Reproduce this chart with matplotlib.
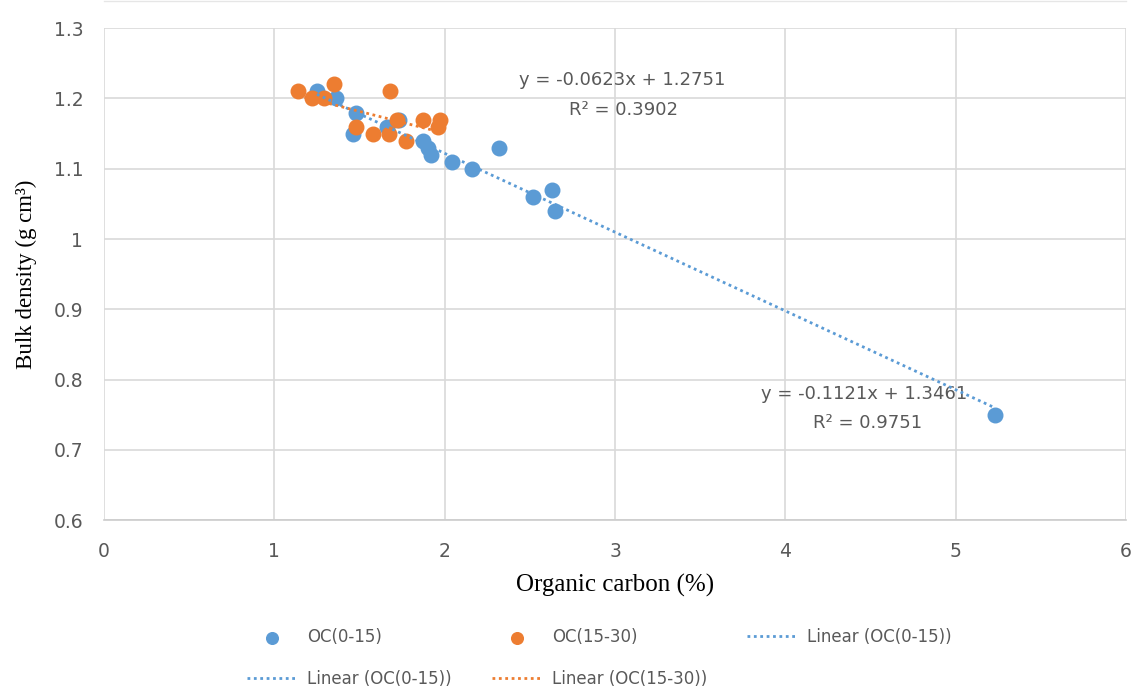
import matplotlib.pyplot as plt
import numpy as np

# OC(0-15) points
oc1_x = [1.25, 1.36, 1.48, 1.46, 1.66, 1.73, 1.87, 1.90, 1.92, 2.04, 2.16, 2.32, 2.52, 2.63, 2.65, 5.23]
oc1_y = [1.21, 1.20, 1.18, 1.15, 1.16, 1.17, 1.14, 1.13, 1.12, 1.11, 1.10, 1.13, 1.06, 1.07, 1.04, 0.75]

# OC(15-30) points
oc2_x = [1.14, 1.22, 1.29, 1.35, 1.68, 1.48, 1.58, 1.67, 1.72, 1.77, 1.87, 1.97, 1.96]
oc2_y = [1.21, 1.20, 1.20, 1.22, 1.21, 1.16, 1.15, 1.15, 1.17, 1.14, 1.17, 1.17, 1.16]

# trend line coefficients shown on the chart
fit1 = (-0.1121, 1.3461, 0.9751)
fit2 = (-0.0623, 1.2751, 0.3902)

blue = "#5B9BD5"
orange = "#ED7D31"
grey = "#595959"

fig = plt.figure(figsize=(11.31, 6.88), dpi=100)
ax = fig.add_axes([0.092, 0.244, 0.9036, 0.715])

a = ax.scatter(oc1_x, oc1_y, s=110, color=blue, zorder=3, label="OC(0-15)")
b = ax.scatter(oc2_x, oc2_y, s=110, color=orange, zorder=3, label="OC(15-30)")

xs1 = np.array([min(oc1_x), max(oc1_x)])
xs2 = np.array([min(oc2_x), max(oc2_x)])
l1, = ax.plot(xs1, fit1[0] * xs1 + fit1[1], color=blue, lw=2, ls=(0, (1, 1.3)),
              zorder=4, label="Linear (OC(0-15))")
l2, = ax.plot(xs2, fit2[0] * xs2 + fit2[1], color=orange, lw=2, ls=(0, (1, 1.3)),
              zorder=4, label="Linear (OC(15-30))")
# the legend lists the blue trend line twice
l1b, = ax.plot([], [], color=blue, lw=2, ls=(0, (1, 1.3)), label="Linear (OC(0-15))")

ax.text(3.04, 1.226, "y = -0.0623x + 1.2751", ha="center", va="center", fontsize=13, color=grey)
ax.text(3.05, 1.184, "R² = 0.3902", ha="center", va="center", fontsize=13, color=grey)
ax.text(4.46, 0.779, "y = -0.1121x + 1.3461", ha="center", va="center", fontsize=13, color=grey)
ax.text(4.48, 0.738, "R² = 0.9751", ha="center", va="center", fontsize=13, color=grey)

ax.set_xlim(0, 6)
ax.set_ylim(0.6, 1.3)
ax.set_xticks(range(0, 7))
ax.set_yticks([0.6, 0.7, 0.8, 0.9, 1.0, 1.1, 1.2, 1.3])
ax.set_yticklabels(["0.6", "0.7", "0.8", "0.9", "1", "1.1", "1.2", "1.3"])
ax.tick_params(length=0, labelsize=13.5, labelcolor=grey)
ax.tick_params(axis="x", pad=16)
ax.tick_params(axis="y", pad=15)
ax.grid(True, color="#d9d9d9", lw=1.2)
ax.set_axisbelow(True)
for s in ax.spines.values():
    s.set_visible(False)
ax.spines["bottom"].set_visible(True)
ax.spines["bottom"].set_color("#cccccc")
ax.spines["bottom"].set_linewidth(1.2)

ax.set_xlabel("Organic carbon (%)", fontsize=18, family="Liberation Serif", labelpad=9)
ax.set_ylabel("Bulk density (g cm³)", fontsize=16.5, family="Liberation Serif", labelpad=12)

# top border line of the chart frame
fig.add_artist(plt.Line2D([0.092, 0.9956], [0.999, 0.999], color="#e6e6e6", lw=1))

leg = fig.legend([a, l1b, b, l2, l1],
                 ["OC(0-15)", "Linear (OC(0-15))", "OC(15-30)", "Linear (OC(15-30))", "Linear (OC(0-15))"],
                 ncol=3, loc="lower center", bbox_to_anchor=(0.53, -0.022), frameon=False,
                 fontsize=12, labelcolor=grey, handlelength=3, columnspacing=2.4,
                 markerscale=0.8, labelspacing=1.45, handletextpad=0.6)

plt.savefig("out.png", dpi=100)
